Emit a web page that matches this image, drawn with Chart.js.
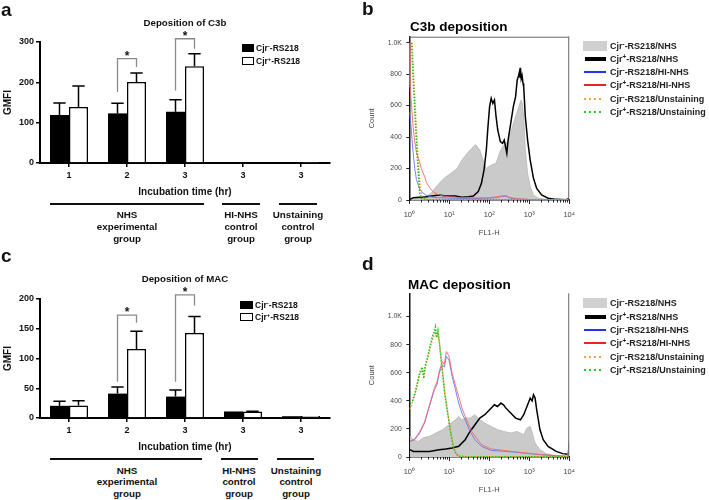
<!DOCTYPE html>
<html><head><meta charset="utf-8">
<script src="https://cdn.jsdelivr.net/npm/chart.js@4/dist/chart.umd.min.js"></script>
<style>
html,body{margin:0;padding:0;background:#fff;width:709px;height:500px;overflow:hidden;font-family:"Liberation Sans",Arial,sans-serif;}
#wrap{position:relative;width:709px;height:500px;overflow:hidden;}
canvas{position:absolute;}
.t{position:absolute;white-space:nowrap;font-weight:bold;color:#111;}
.c{text-align:center;}
.sw{position:absolute;}
sup{font-size:0.7em;vertical-align:0.45em;line-height:0;}
</style></head><body>
<div id="wrap">
<canvas id="ca" width="360" height="200" style="left:0;top:0"></canvas>
<canvas id="cc" width="360" height="200" style="left:0;top:255px"></canvas>
<canvas id="cb" width="225" height="245" style="left:360px;top:0"></canvas>
<canvas id="cd" width="225" height="247" style="left:360px;top:255px"></canvas>

<!-- panel letters -->
<div class="t" style="left:1px;top:0px;font-size:19px;line-height:19px;">a</div>
<div class="t" style="left:362px;top:-1px;font-size:19px;line-height:19px;">b</div>
<div class="t" style="left:1px;top:246px;font-size:19px;line-height:19px;">c</div>
<div class="t" style="left:362px;top:254px;font-size:19px;line-height:19px;">d</div>

<!-- bar titles -->
<div class="t c" style="left:85px;width:200px;top:17px;font-size:9.7px;line-height:12px;">Deposition of C3b</div>
<div class="t c" style="left:85px;width:200px;top:273px;font-size:9.7px;line-height:12px;">Deposition of MAC</div>

<!-- bar legends -->
<div class="sw" style="left:242px;top:44px;width:12px;height:8px;background:#000"></div>
<div class="t" style="left:256px;top:42px;font-size:8.5px;line-height:12px;">Cjr<sup>-</sup>-RS218</div>
<div class="sw" style="left:242px;top:57px;width:12px;height:8px;background:#fff;border:1px solid #000;box-sizing:border-box"></div>
<div class="t" style="left:256px;top:55px;font-size:8.5px;line-height:12px;">Cjr<sup>+</sup>-RS218</div>

<div class="sw" style="left:240px;top:301px;width:13px;height:8px;background:#000"></div>
<div class="t" style="left:255px;top:299px;font-size:8.5px;line-height:12px;">Cjr<sup>-</sup>-RS218</div>
<div class="sw" style="left:240px;top:313px;width:13px;height:8px;background:#fff;border:1px solid #000;box-sizing:border-box"></div>
<div class="t" style="left:255px;top:311px;font-size:8.5px;line-height:12px;">Cjr<sup>+</sup>-RS218</div>

<!-- group labels a -->
<div class="sw" style="left:50px;top:203px;width:154px;height:2px;background:#111"></div>
<div class="sw" style="left:222px;top:203px;width:38px;height:2px;background:#111"></div>
<div class="sw" style="left:279px;top:203px;width:38px;height:2px;background:#111"></div>
<div class="t c" style="left:77px;width:100px;top:209px;font-size:9.8px;line-height:12px;">NHS<br>experimental<br>group</div>
<div class="t c" style="left:191px;width:100px;top:209px;font-size:9.8px;line-height:12px;">HI-NHS<br>control<br>group</div>
<div class="t c" style="left:248px;width:100px;top:209px;font-size:9.8px;line-height:12px;">Unstaining<br>control<br>group</div>

<!-- group labels c -->
<div class="sw" style="left:50px;top:458px;width:152px;height:2px;background:#111"></div>
<div class="sw" style="left:221px;top:458px;width:37px;height:2px;background:#111"></div>
<div class="sw" style="left:277px;top:458px;width:37px;height:2px;background:#111"></div>
<div class="t c" style="left:77px;width:100px;top:465px;font-size:9.8px;line-height:11.3px;">NHS<br>experimental<br>group</div>
<div class="t c" style="left:189px;width:100px;top:465px;font-size:9.8px;line-height:11.3px;">HI-NHS<br>control<br>group</div>
<div class="t c" style="left:246px;width:100px;top:465px;font-size:9.8px;line-height:11.3px;">Unstaining<br>control<br>group</div>

<!-- flow titles -->
<div class="t" style="left:410px;top:18px;font-size:13.5px;line-height:17px;color:#000">C3b deposition</div>
<div class="t" style="left:408px;top:276px;font-size:13.5px;line-height:17px;color:#000">MAC deposition</div>

<div id="legb"></div>
<div id="legd"></div>
</div>
<script>
// ---------------- data ----------------
const categories = ['1', '2', '3', '3', '3'];

// Panel a: C3b deposition (GMFI)
const c3bNeg    = [119, 123, 127, 1.5, 0.8];
const c3bPos    = [139, 201, 240, 1.5, 0.8];
const c3bNegErr = [30, 25, 30, 0, 0];
const c3bPosErr = [52, 22, 31, 0, 0];
const c3bBracketCats  = [1, 2];
const c3bBracketTop   = [259, 308];
const c3bBracketLeft  = [176, 180];
const c3bBracketRight = [238, 283];

// Panel c: MAC deposition (GMFI)
const macNeg    = [20.5, 41, 36, 11, 3];
const macPos    = [21, 116, 143, 11, 3.5];
const macNegErr = [7.5, 11, 11, 0, 0];
const macPosErr = [8, 30, 27.5, 0.5, 0];
const macBracketCats  = [1, 2];
const macBracketTop   = [173, 207];
const macBracketLeft  = [61, 61];
const macBracketRight = [160, 189];

const barYTicksA = [0, 100, 200, 300];
const barYTicksC = [0, 50, 100, 150, 200];

// Flow histograms: [FL1-H, Count]
const flowXTicks = [1, 10, 100, 1000, 10000];
const flowXTickLabels = ['10\u2070', '10\u00b9', '10\u00b2', '10\u00b3', '10\u2074'];
const flowYTicks = [0, 200, 400, 600, 800, 1000];
const flowYTickLabels = ['0', '200', '400', '600', '800', '1.0K'];

// Panel b (C3b)
const bNegNHS = [[1.04,4],[1.82,11],[2.65,21],[3.5,42],[5.1,95],[7.41,138],[10.8,169],[15.7,201],[20.7,254],[30.2,307],[40,339],[46,352],[52.9,330],[58.1,318],[70.1,254],[84.5,201],[112,222],[148,233],[179,297],[215,339],[260,360],[313,381],[378,466],[456,530],[549,593],[626,636],[680,610],[727,530],[798,318],[910,169],[1057,85],[1276,32],[1690,11],[2700,4],[10000,2]];
const bPosNHS = [[1.04,4],[1.25,15],[2.65,21],[5.6,32],[8.14,25],[14.3,25],[20.7,17],[30.2,21],[40,25],[52.9,53],[63.8,106],[74.1,191],[84.5,318],[92.8,466],[102,593],[112,646],[123,614],[135,636],[148,530],[163,445],[189,371],[215,360],[237,381],[275,297],[296,381],[344,487],[400,593],[456,657],[500,763],[540,790],[570,816],[590,780],[603,840],[630,770],[662,790],[700,740],[727,720],[798,530],[910,381],[1057,254],[1276,138],[1538,74],[2038,32],[2963,11],[4730,4],[8290,2],[10000,10]];
const bNegHI = [[1.0,560],[1.08,500],[1.14,420],[1.25,300],[1.37,200],[1.51,130],[1.82,70],[2.19,45],[2.65,30],[3.5,20],[5,15],[10,12],[20,10],[50,10],[100,12],[150,15],[200,22],[260,24],[313,15],[400,8],[1000,3],[10000,2]];
const bPosHI = [[1.0,1000],[1.04,720],[1.14,600],[1.25,460],[1.37,370],[1.51,300],[1.66,270],[1.82,240],[2.0,200],[2.41,150],[2.65,115],[3.19,80],[3.85,55],[5.1,35],[7.4,25],[10,20],[20,15],[50,13],[100,14],[200,25],[260,28],[313,18],[500,8],[1000,3],[10000,2]];
const bNegUn = [[1.18,1000],[1.3,760],[1.45,530],[1.62,300],[1.85,100],[2.05,25],[2.4,4],[5,2],[10000,2]];
const bPosUn = [[1.14,1000],[1.25,770],[1.4,520],[1.58,280],[1.82,40],[2.0,8],[3,2],[10000,2]];

// Panel d (MAC)
const dNegNHS = [[1.04,147],[1.25,123],[1.66,111],[2.19,135],[3.19,147],[4.64,171],[6.75,194],[9.8,230],[14.3,265],[17.2,289],[20.7,265],[25,277],[33.1,277],[43.9,301],[58.1,265],[77,242],[112,218],[163,194],[237,182],[344,171],[500,182],[727,159],[877,206],[1057,218],[1161,182],[1400,100],[1855,52],[2700,24],[4730,9],[8290,5],[10000,5]];
const dPosNHS = [[1.04,52],[1.25,40],[1.82,40],[3.19,40],[5.6,52],[8.14,57],[11.8,64],[17.2,76],[25,123],[33.1,182],[43.9,230],[58.1,277],[77,301],[102,336],[135,372],[160,360],[196,384],[230,370],[260,348],[344,313],[456,277],[603,265],[727,301],[877,360],[1057,419],[1180,400],[1276,443],[1400,420],[1538,336],[1855,194],[2239,123],[2963,76],[4730,40],[6870,24],[9100,20],[10000,30]];
const dNegHI = [[1.04,111],[1.37,123],[1.82,171],[2.41,242],[3.19,360],[4.23,479],[5.0,520],[5.6,597],[6.75,656],[7.5,640],[8.45,716],[9.8,692],[11.8,573],[14.3,479],[17.2,384],[20.7,313],[25,265],[33.1,182],[43.9,123],[63.8,76],[112,47],[260,40],[727,28],[1855,17],[4730,9],[9100,5],[10000,110]];
const dPosHI = [[1.04,111],[1.37,130],[1.82,180],[2.41,250],[3.19,370],[4.23,490],[5.0,540],[5.6,610],[6.75,680],[7.5,660],[8.45,751],[9.8,720],[11.8,597],[14.3,510],[17.2,431],[20.7,350],[25,289],[36.4,182],[63.8,88],[112,57],[260,45],[727,30],[1855,18],[4730,9],[9100,5],[10000,80]];
const dNegUn = [[1.04,340],[1.2,390],[1.4,450],[1.6,540],[1.82,590],[2.1,620],[2.3,580],[2.5,640],[2.9,700],[3.3,770],[3.8,840],[4.2,870],[4.5,880],[4.8,860],[5.2,880],[5.6,820],[6.2,720],[7,580],[7.8,450],[8.9,340],[10.2,230],[11.5,140],[13,65],[15,22],[18,5],[25,2],[10000,2]];
const dPosUn = [[1.04,384],[1.2,400],[1.4,460],[1.6,520],[1.82,600],[2.1,640],[2.3,560],[2.5,650],[2.9,720],[3.3,790],[3.8,860],[4.2,890],[4.5,925],[4.8,850],[5.2,900],[5.6,830],[6.2,700],[7,560],[7.8,440],[8.9,330],[10.2,220],[11.5,130],[13,60],[15,20],[18,5],[25,2],[10000,2]];

const legendLabels = ['Cjr<sup>-</sup>-RS218/NHS','Cjr<sup>+</sup>-RS218/NHS','Cjr<sup>-</sup>-RS218/HI-NHS','Cjr<sup>+</sup>-RS218/HI-NHS','Cjr<sup>-</sup>-RS218/Unstaining','Cjr<sup>+</sup>-RS218/Unstaining'];

// ---------------- charts ----------------
const F = "'Liberation Sans', Arial, sans-serif";
Chart.defaults.font.family = F;

function barDeco(errs, bCats, bTop, bLeft, bRight) {
  return {
    id: 'barDeco',
    afterDatasetsDraw(chart) {
      const ctx = chart.ctx, y = chart.scales.y;
      ctx.save();
      ctx.strokeStyle = '#000'; ctx.lineWidth = 1.5;
      chart.data.datasets.forEach((ds, i) => {
        const meta = chart.getDatasetMeta(i);
        meta.data.forEach((bar, j) => {
          const e = errs[i][j]; if (!e) return;
          const yv = y.getPixelForValue(ds.data[j] + e);
          const cap = bar.width * 0.65;
          ctx.beginPath();
          ctx.moveTo(bar.x, bar.y); ctx.lineTo(bar.x, yv);
          ctx.moveTo(bar.x - cap / 2, yv); ctx.lineTo(bar.x + cap / 2, yv);
          ctx.stroke();
        });
      });
      const m0 = chart.getDatasetMeta(0), m1 = chart.getDatasetMeta(1);
      bCats.forEach((c, k) => {
        const x1 = m0.data[c].x, x2 = m1.data[c].x;
        const yt = y.getPixelForValue(bTop[k]);
        ctx.strokeStyle = '#8a8a8a'; ctx.lineWidth = 1.3;
        ctx.beginPath();
        ctx.moveTo(x1, y.getPixelForValue(bLeft[k]));
        ctx.lineTo(x1, yt); ctx.lineTo(x2, yt);
        ctx.lineTo(x2, y.getPixelForValue(bRight[k]));
        ctx.stroke();
        ctx.fillStyle = '#111';
        ctx.font = 'bold 12px ' + F;
        ctx.textAlign = 'center'; ctx.textBaseline = 'alphabetic';
        ctx.fillText('*', (x1 + x2) / 2, yt + 1);
      });
      ctx.restore();
    }
  };
}

function barChart(id, neg, pos, negErr, posErr, yMax, yTicks, padTop, bCats, bTop, bLeft, bRight) {
  const tickFont = {family: F, size: 9, weight: 'bold'};
  return new Chart(document.getElementById(id), {
    type: 'bar',
    data: {labels: categories, datasets: [
      {label: 'Cjr-', data: neg, backgroundColor: '#000', borderColor: '#000', borderWidth: 0},
      {label: 'Cjr+', data: pos, backgroundColor: '#fff', borderColor: '#000', borderWidth: 1.5}
    ]},
    options: {
      responsive: false, animation: false, devicePixelRatio: 1,
      layout: {padding: {top: padTop, right: 30, left: 0, bottom: 0}},
      datasets: {bar: {categoryPercentage: 0.655, barPercentage: 1}},
      plugins: {legend: {display: false}, tooltip: {enabled: false}, title: {display: false}},
      scales: {
        x: {
          grid: {offset: false, drawOnChartArea: false, drawTicks: true, tickLength: 4, color: '#000', lineWidth: 1.5},
          border: {display: true, color: '#000', width: 2},
          ticks: {color: '#111', font: tickFont, padding: 3, maxRotation: 0, autoSkip: false},
          title: {display: true, text: 'Incubation time (hr)', color: '#111', font: {family: F, size: 10, weight: 'bold'}, padding: {top: 2, bottom: 2}},
          afterFit: s => { s.height = 37; }
        },
        y: {
          min: 0, max: yMax,
          afterBuildTicks: s => { s.ticks = yTicks.map(v => ({value: v})); },
          ticks: {color: '#111', font: tickFont, padding: 2},
          grid: {drawOnChartArea: false, drawTicks: true, tickLength: 4, color: '#000', lineWidth: 1.5},
          border: {display: true, color: '#000', width: 2},
          title: {display: true, text: 'GMFI', color: '#111', font: {family: F, size: 10, weight: 'bold'}, padding: {top: 2, bottom: 0}},
          afterFit: s => { s.width = 40; }
        }
      }
    },
    plugins: [barDeco([negErr, posErr], bCats, bTop, bLeft, bRight)]
  });
}

barChart('ca', c3bNeg, c3bPos, c3bNegErr, c3bPosErr, 300, barYTicksA, 42, c3bBracketCats, c3bBracketTop, c3bBracketLeft, c3bBracketRight);
barChart('cc', macNeg, macPos, macNegErr, macPosErr, 200, barYTicksC, 44, macBracketCats, macBracketTop, macBracketLeft, macBracketRight);

const flowMinor = [];
[1, 10, 100, 1000].forEach(d => { for (let k = 2; k <= 9; k++) flowMinor.push(d * k); });

function flowDeco(topBorder) {
  return {
    id: 'flowDeco',
    afterDraw(chart) {
      const {ctx, chartArea: a, scales: {x}} = chart;
      ctx.save();
      ctx.strokeStyle = '#222'; ctx.lineWidth = 1;
      ctx.beginPath();
      flowXTicks.forEach(v => { const px = Math.round(x.getPixelForValue(v)) + 0.5; ctx.moveTo(px, a.bottom); ctx.lineTo(px, a.bottom + 4); });
      flowMinor.forEach(v => { const px = Math.round(x.getPixelForValue(v)) + 0.5; ctx.moveTo(px, a.bottom); ctx.lineTo(px, a.bottom + 2.5); });
      ctx.stroke();
      ctx.strokeStyle = '#666';
      ctx.beginPath();
      if (topBorder) { ctx.moveTo(a.left, a.top + 0.5); ctx.lineTo(a.right, a.top + 0.5); }
      ctx.moveTo(a.right - 0.5, a.top); ctx.lineTo(a.right - 0.5, a.bottom);
      ctx.stroke();
      ctx.restore();
    }
  };
}

function pts(arr) { return arr.map(p => ({x: p[0], y: p[1]})); }

function flowChart(id, s, yMax, padTop, topBorder) {
  const dotted = [1.5, 1.5];
  return new Chart(document.getElementById(id), {
    type: 'line',
    data: {datasets: [
      {data: pts(s[5]), borderColor: '#22c222', borderWidth: 1.5, borderDash: dotted, fill: false},
      {data: pts(s[4]), borderColor: '#f5a040', borderWidth: 1.5, borderDash: dotted, fill: false},
      {data: pts(s[3]), borderColor: '#f06a6a', borderWidth: 0.9, fill: false},
      {data: pts(s[2]), borderColor: '#6a74ee', borderWidth: 0.9, fill: false},
      {data: pts(s[1]), borderColor: '#000', borderWidth: 1.5, fill: false},
      {data: pts(s[0]), borderColor: '#b8b8b8', borderWidth: 0.8, backgroundColor: '#cacaca', fill: 'origin'}
    ]},
    options: {
      responsive: false, animation: false, devicePixelRatio: 1,
      layout: {padding: {top: padTop, right: 11.7, left: 0, bottom: 0}},
      elements: {point: {radius: 0}, line: {tension: 0}},
      plugins: {legend: {display: false}, tooltip: {enabled: false}},
      scales: {
        x: {
          type: 'logarithmic', min: 1, max: 10000,
          afterBuildTicks: sc => { sc.ticks = flowXTicks.map(v => ({value: v})); },
          ticks: {callback: (v, i) => flowXTickLabels[i], color: '#444', font: {family: F, size: 7.5}, padding: 10, maxRotation: 0, autoSkip: false},
          grid: {display: false, drawTicks: false},
          border: {display: true, color: '#111', width: 1.5},
          title: {display: true, text: 'FL1-H', color: '#444', font: {family: F, size: 7.5}, padding: {top: 8, bottom: 8}},
          afterFit: sc => { sc.height = 45; }
        },
        y: {
          min: 0, max: yMax,
          afterBuildTicks: sc => { sc.ticks = flowYTicks.map(v => ({value: v})); },
          ticks: {callback: (v, i) => flowYTickLabels[i], color: '#444', font: {family: F, size: 6.8}, padding: 4.6},
          grid: {drawOnChartArea: false, drawTicks: true, tickLength: 3, color: '#222', lineWidth: 1},
          border: {display: true, color: '#111', width: 1.5},
          title: {display: true, text: 'Count', color: '#444', font: {family: F, size: 7.5}, padding: {top: 7, bottom: 0}},
          afterFit: sc => { sc.width = 49.3; }
        }
      }
    },
    plugins: [flowDeco(topBorder)]
  });
}

flowChart('cb', [bNegNHS, bPosNHS, bNegHI, bPosHI, bNegUn, bPosUn], 1038, 36.7, true);
flowChart('cd', [dNegNHS, dPosNHS, dNegHI, dPosHI, dNegUn, dPosUn], 1166, 38.3, false);

// flow legends
const swatches = [
  {left: 583, w: 24, h: 10, bg: '#d0d0d0'},
  {left: 585, w: 21, h: 4, bg: '#000'},
  {left: 584, w: 22, h: 2, bg: '#2233ee'},
  {left: 584, w: 22, h: 2, bg: '#ee2222'},
  {left: 584, w: 20, h: 2, bg: 'repeating-linear-gradient(90deg,#f5a040 0 2px,transparent 2px 5px)'},
  {left: 584, w: 20, h: 2, bg: 'repeating-linear-gradient(90deg,#22cc22 0 2px,transparent 2px 5px)'}
];
function buildLegend(elId, y0) {
  const el = document.getElementById(elId);
  let html = '';
  legendLabels.forEach((lab, k) => {
    const cy = y0 + k * 13.3;
    const s = swatches[k];
    html += `<div class="sw" style="left:${s.left}px;top:${cy - s.h / 2}px;width:${s.w}px;height:${s.h}px;background:${s.bg}"></div>`;
    html += `<div class="t" style="left:610px;top:${cy - 6}px;font-size:9px;line-height:12px;color:#222">${lab}</div>`;
  });
  el.innerHTML = html;
}
buildLegend('legb', 45.5);
buildLegend('legd', 303.3);
</script>
</body></html>
